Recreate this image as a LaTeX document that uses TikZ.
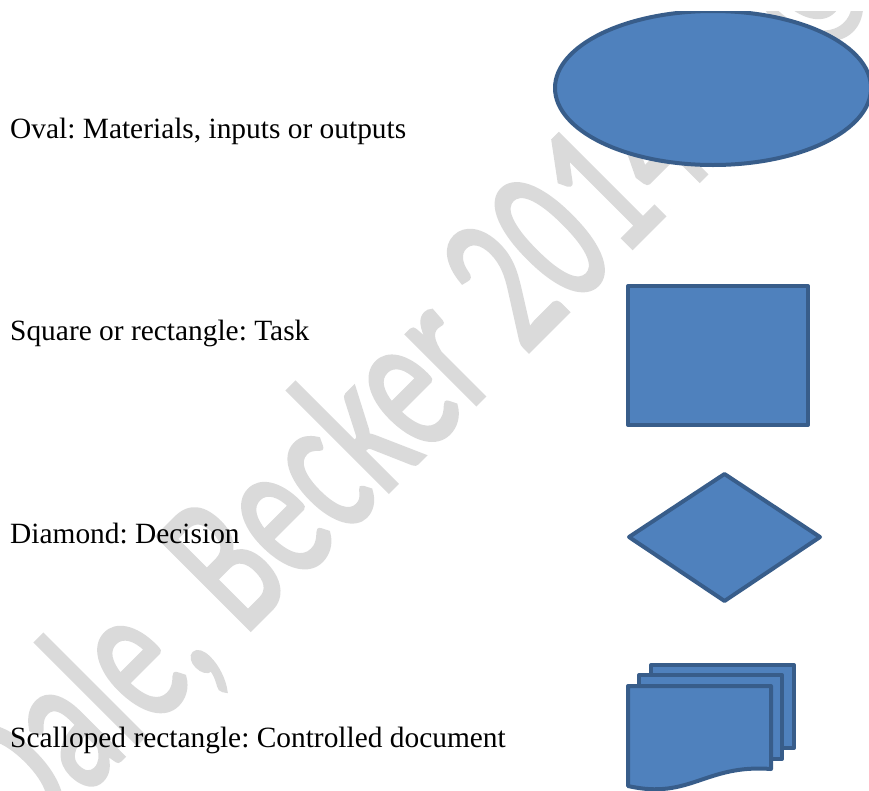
\documentclass[tikz,border=0pt]{standalone}
\usepackage{fontspec}
\usepackage{graphicx}
\setmainfont{Liberation Serif}
\newfontfamily\wmfont{Carlito}[FakeBold=2]
\definecolor{shapefill}{HTML}{4F81BD}
\definecolor{shapeline}{HTML}{385D8A}
\definecolor{wmgray}{HTML}{DADADA}
\frenchspacing
\begin{document}
\begin{tikzpicture}[x=1pt,y=-1pt,
  fig/.style={fill=shapefill, draw=shapeline, line width=4pt, line join=round},
  legendtext/.style={anchor=base west, inner sep=0pt, font=\fontsize{29.4}{35}\selectfont},
  watermark/.style={rotate=45, anchor=base west, inner sep=0pt, text=wmgray,
    font=\wmfont\fontsize{205}{240}\selectfont}]
\useasboundingbox (0,0) rectangle (869,790);
\clip (0,11) rectangle (869,790);
% watermark
\node[watermark] (wm) at (25.7,854.3) {\scalebox{0.654}[1]{Dale, Becker 2014\hspace{1.0em}©}};
% legend texts
\node[legendtext] (t1) at (10,138) {Oval: Materials, inputs or outputs};
\node[legendtext] (t2) at (10,340) {Square or rectangle: Task};
\node[legendtext] (t3) at (10,543) {Diamond: Decision};
\node[legendtext] (t4) at (10,747) {Scalloped rectangle: Controlled document};
% shapes
\draw[fig] (713,88) ellipse [x radius=158, y radius=77];
\draw[fig] (628,286) rectangle (808,425);
\draw[fig] (629,537) -- (724.5,474) -- (820,537) -- (724.5,601) -- cycle;
\draw[fig] (651,665) rectangle (794,748);
\draw[fig] (639,675) rectangle (782,759);
\draw[fig] (628,686) -- (771,686) -- (771,769) .. controls (705,764) and (690,800) .. (628,786) -- cycle;
\end{tikzpicture}
\end{document}
